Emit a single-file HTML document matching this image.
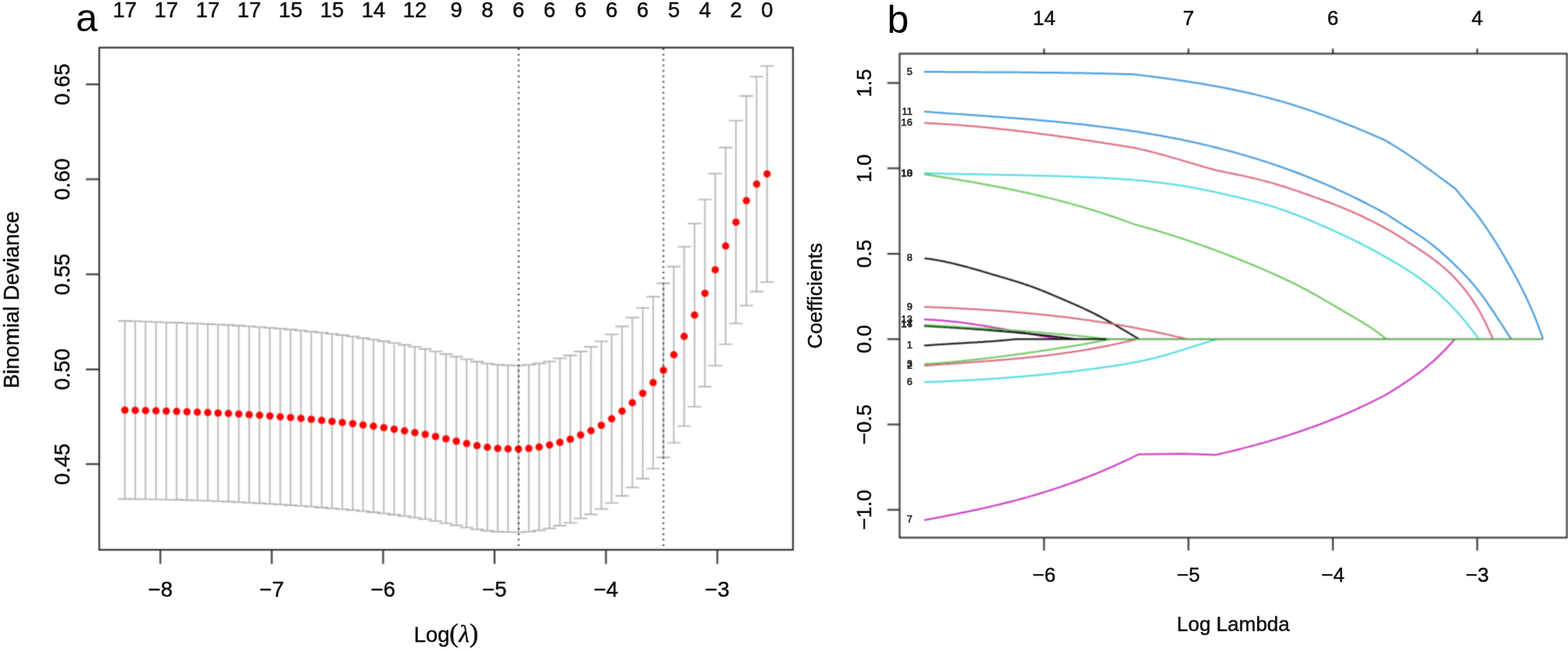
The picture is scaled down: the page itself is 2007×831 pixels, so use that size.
<!DOCTYPE html>
<html><head><meta charset="utf-8"><title>LASSO</title>
<style>
html,body{margin:0;padding:0;background:#fff;}
body{width:2007px;height:831px;overflow:hidden;}
svg{display:block;}
text{font-family:"Liberation Sans",Arial,sans-serif;fill:#111;stroke:#111;stroke-width:0.5px;}
.ta{font-size:27.4px;}
.tb{font-size:26px;}
.tl{font-size:12.8px;fill:#222;stroke:#222;stroke-width:0.55px;}
.big{font-size:50px;fill:#000;stroke:none;}
.par{font-family:"Liberation Serif","DejaVu Serif",serif;font-size:34px;}
.lam{font-family:"Liberation Serif","DejaVu Serif",serif;font-style:italic;font-size:31px;}
</style></head>
<body>
<svg width="2007" height="831" viewBox="0 0 2007 831">
<rect width="2007" height="831" fill="#fff"/>
<defs><filter id="soft" x="0" y="0" width="2007" height="831" filterUnits="userSpaceOnUse" color-interpolation-filters="sRGB"><feConvolveMatrix order="3" kernelMatrix="1 2 1 2 4 2 1 2 1" divisor="16" edgeMode="none"/></filter></defs>
<g filter="url(#soft)">
<path d="M159.8 410.9V638.9M151.1 410.9H168.5M151.1 638.9H168.5M173.1 411.3V639.1M164.4 411.3H181.8M164.4 639.1H181.8M186.3 411.8V639.3M177.6 411.8H195M177.6 639.3H195M199.6 412.2V639.5M190.9 412.2H208.3M190.9 639.5H208.3M212.8 412.7V639.7M204.1 412.7H221.5M204.1 639.7H221.5M226.1 413.1V639.9M217.4 413.1H234.8M217.4 639.9H234.8M239.3 413.7V640.4M230.6 413.7H248M230.6 640.4H248M252.6 414.3V640.8M243.9 414.3H261.3M243.9 640.8H261.3M265.9 414.9V641.3M257.2 414.9H274.6M257.2 641.3H274.6M279.1 415.5V641.8M270.4 415.5H287.8M270.4 641.8H287.8M292.4 416.1V642.4M283.7 416.1H301.1M283.7 642.4H301.1M305.6 416.9V643M296.9 416.9H314.3M296.9 643H314.3M318.9 417.8V643.7M310.2 417.8H327.6M310.2 643.7H327.6M332.2 418.7V644.4M323.5 418.7H340.9M323.5 644.4H340.9M345.4 419.7V645.2M336.7 419.7H354.1M336.7 645.2H354.1M358.7 420.7V646M350 420.7H367.4M350 646H367.4M371.9 421.9V646.9M363.2 421.9H380.6M363.2 646.9H380.6M385.2 423.2V647.8M376.5 423.2H393.9M376.5 647.8H393.9M398.4 424.6V648.8M389.7 424.6H407.1M389.7 648.8H407.1M411.7 426V649.9M403 426H420.4M403 649.9H420.4M425 427.5V651M416.3 427.5H433.7M416.3 651H433.7M438.2 429.1V652M429.5 429.1H446.9M429.5 652H446.9M451.5 430.8V653.2M442.8 430.8H460.2M442.8 653.2H460.2M464.7 432.9V654.5M456 432.9H473.4M456 654.5H473.4M478 434.8V655.9M469.3 434.8H486.7M469.3 655.9H486.7M491.3 436.9V657.5M482.6 436.9H500M482.6 657.5H500M504.5 439.2V659.1M495.8 439.2H513.2M495.8 659.1H513.2M517.8 441.6V660.8M509.1 441.6H526.5M509.1 660.8H526.5M531 444V662.8M522.3 444H539.7M522.3 662.8H539.7M544.3 446.9V664.8M535.6 446.9H553M535.6 664.8H553M557.5 450V667.3M548.8 450H566.2M548.8 667.3H566.2M570.8 453.4V670M562.1 453.4H579.5M562.1 670H579.5M584.1 456.6V672.6M575.4 456.6H592.8M575.4 672.6H592.8M597.3 460V675.5M588.6 460H606M588.6 675.5H606M610.6 463.1V677.8M601.9 463.1H619.3M601.9 677.8H619.3M623.8 465.5V679.6M615.1 465.5H632.5M615.1 679.6H632.5M637.1 466.9V680.9M628.4 466.9H645.8M628.4 680.9H645.8M650.3 467.6V681.3M641.6 467.6H659M641.6 681.3H659M663.6 468V681.5M654.9 468H672.3M654.9 681.5H672.3M676.9 467.2V680.8M668.2 467.2H685.6M668.2 680.8H685.6M690.1 465.4V679.3M681.4 465.4H698.8M681.4 679.3H698.8M703.4 462.7V676.6M694.7 462.7H712.1M694.7 676.6H712.1M716.6 458.8V673.1M707.9 458.8H725.3M707.9 673.1H725.3M729.9 455.1V669.5M721.2 455.1H738.6M721.2 669.5H738.6M743.2 450.1V663.8M734.5 450.1H751.9M734.5 663.8H751.9M756.4 444.1V658.6M747.7 444.1H765.1M747.7 658.6H765.1M769.7 437V651.8M761 437H778.4M761 651.8H778.4M782.9 428.3V644M774.2 428.3H791.6M774.2 644H791.6M796.2 417.9V634.9M787.5 417.9H804.9M787.5 634.9H804.9M809.4 406.6V624.3M800.7 406.6H818.1M800.7 624.3H818.1M822.7 394.2V612.9M814 394.2H831.4M814 612.9H831.4M836 379.9V600M827.3 379.9H844.7M827.3 600H844.7M849.2 362.6V585.6M840.5 362.6H857.9M840.5 585.6H857.9M862.5 341.4V567M853.8 341.4H871.2M853.8 567H871.2M875.7 316V545.5M867 316H884.4M867 545.5H884.4M889 286.3V520.7M880.3 286.3H897.7M880.3 520.7H897.7M902.3 255.5V495.1M893.6 255.5H911M893.6 495.1H911M915.5 222.4V468.3M906.8 222.4H924.2M906.8 468.3H924.2M928.8 188.9V440.8M920.1 188.9H937.5M920.1 440.8H937.5M942 154.5V414.2M933.3 154.5H950.7M933.3 414.2H950.7M955.3 122.9V391.3M946.6 122.9H964M946.6 391.3H964M968.5 98.2V373.4M959.8 98.2H977.2M959.8 373.4H977.2M981.8 84.5V361.2M973.1 84.5H990.5M973.1 361.2H990.5" stroke="#aaaaaa" stroke-width="1.6" fill="none"/>
<circle cx="159.8" cy="525.1" r="4.7" fill="#f00"/>
<circle cx="173.1" cy="525.4" r="4.7" fill="#f00"/>
<circle cx="186.3" cy="525.7" r="4.7" fill="#f00"/>
<circle cx="199.6" cy="526" r="4.7" fill="#f00"/>
<circle cx="212.8" cy="526.4" r="4.7" fill="#f00"/>
<circle cx="226.1" cy="526.7" r="4.7" fill="#f00"/>
<circle cx="239.3" cy="527.2" r="4.7" fill="#f00"/>
<circle cx="252.6" cy="527.7" r="4.7" fill="#f00"/>
<circle cx="265.9" cy="528.3" r="4.7" fill="#f00"/>
<circle cx="279.1" cy="528.9" r="4.7" fill="#f00"/>
<circle cx="292.4" cy="529.5" r="4.7" fill="#f00"/>
<circle cx="305.6" cy="530.1" r="4.7" fill="#f00"/>
<circle cx="318.9" cy="530.9" r="4.7" fill="#f00"/>
<circle cx="332.2" cy="531.7" r="4.7" fill="#f00"/>
<circle cx="345.4" cy="532.6" r="4.7" fill="#f00"/>
<circle cx="358.7" cy="533.7" r="4.7" fill="#f00"/>
<circle cx="371.9" cy="534.6" r="4.7" fill="#f00"/>
<circle cx="385.2" cy="535.7" r="4.7" fill="#f00"/>
<circle cx="398.4" cy="536.9" r="4.7" fill="#f00"/>
<circle cx="411.7" cy="538.2" r="4.7" fill="#f00"/>
<circle cx="425" cy="539.6" r="4.7" fill="#f00"/>
<circle cx="438.2" cy="541" r="4.7" fill="#f00"/>
<circle cx="451.5" cy="542.5" r="4.7" fill="#f00"/>
<circle cx="464.7" cy="544.1" r="4.7" fill="#f00"/>
<circle cx="478" cy="545.8" r="4.7" fill="#f00"/>
<circle cx="491.3" cy="547.6" r="4.7" fill="#f00"/>
<circle cx="504.5" cy="549.6" r="4.7" fill="#f00"/>
<circle cx="517.8" cy="551.7" r="4.7" fill="#f00"/>
<circle cx="531" cy="553.9" r="4.7" fill="#f00"/>
<circle cx="544.3" cy="556.1" r="4.7" fill="#f00"/>
<circle cx="557.5" cy="558.9" r="4.7" fill="#f00"/>
<circle cx="570.8" cy="561.9" r="4.7" fill="#f00"/>
<circle cx="584.1" cy="564.9" r="4.7" fill="#f00"/>
<circle cx="597.3" cy="567.9" r="4.7" fill="#f00"/>
<circle cx="610.6" cy="570.6" r="4.7" fill="#f00"/>
<circle cx="623.8" cy="572.7" r="4.7" fill="#f00"/>
<circle cx="637.1" cy="574.1" r="4.7" fill="#f00"/>
<circle cx="650.3" cy="574.7" r="4.7" fill="#f00"/>
<circle cx="663.6" cy="574.9" r="4.7" fill="#f00"/>
<circle cx="676.9" cy="574.1" r="4.7" fill="#f00"/>
<circle cx="690.1" cy="572.4" r="4.7" fill="#f00"/>
<circle cx="703.4" cy="569.7" r="4.7" fill="#f00"/>
<circle cx="716.6" cy="566.4" r="4.7" fill="#f00"/>
<circle cx="729.9" cy="562.4" r="4.7" fill="#f00"/>
<circle cx="743.2" cy="557" r="4.7" fill="#f00"/>
<circle cx="756.4" cy="551.5" r="4.7" fill="#f00"/>
<circle cx="769.7" cy="544.6" r="4.7" fill="#f00"/>
<circle cx="782.9" cy="536.3" r="4.7" fill="#f00"/>
<circle cx="796.2" cy="526.5" r="4.7" fill="#f00"/>
<circle cx="809.4" cy="515.7" r="4.7" fill="#f00"/>
<circle cx="822.7" cy="503.6" r="4.7" fill="#f00"/>
<circle cx="836" cy="489.9" r="4.7" fill="#f00"/>
<circle cx="849.2" cy="474.1" r="4.7" fill="#f00"/>
<circle cx="862.5" cy="454.2" r="4.7" fill="#f00"/>
<circle cx="875.7" cy="430.7" r="4.7" fill="#f00"/>
<circle cx="889" cy="403.4" r="4.7" fill="#f00"/>
<circle cx="902.3" cy="375.6" r="4.7" fill="#f00"/>
<circle cx="915.5" cy="345.4" r="4.7" fill="#f00"/>
<circle cx="928.8" cy="315" r="4.7" fill="#f00"/>
<circle cx="942" cy="284.5" r="4.7" fill="#f00"/>
<circle cx="955.3" cy="257" r="4.7" fill="#f00"/>
<circle cx="968.5" cy="235.7" r="4.7" fill="#f00"/>
<circle cx="981.8" cy="222.8" r="4.7" fill="#f00"/>
<line x1="663.9" y1="61" x2="663.9" y2="704" stroke="#222" stroke-width="2" stroke-dasharray="2 4.979" stroke-dashoffset="-0.9"/>
<line x1="849.2" y1="61" x2="849.2" y2="704" stroke="#222" stroke-width="2" stroke-dasharray="2 4.979" stroke-dashoffset="-0.9"/>
<rect x="127" y="61" width="888" height="643" fill="none" stroke="#222" stroke-width="2"/>
<path d="M205.3 704V722M347.8 704V722M490.4 704V722M633 704V722M775.6 704V722M918.2 704V722M110 108H127M110 229.5H127M110 351.3H127M110 472.9H127M110 594.3H127" stroke="#222" stroke-width="2" fill="none"/>
<path d="M1183 442.5 1185 442.3 1187 442.2 1189 442 1191 441.9 1193 441.7 1195 441.6 1197 441.5 1199 441.3 1201 441.2 1203 441.1 1205 440.9 1207 440.8 1209 440.7 1211 440.6 1213 440.4 1215 440.3 1217 440.2 1219 440.1 1221 440 1223 439.9 1225 439.7 1227 439.6 1229 439.5 1231 439.4 1233 439.3 1235 439.2 1237 439.1 1239 439 1241 438.8 1243 438.7 1245 438.6 1247 438.5 1249 438.4 1251 438.2 1253 438.1 1255 438 1257 437.9 1259 437.7 1261 437.6 1263 437.5 1265 437.3 1267 437.2 1269 437.1 1271 436.9 1273 436.8 1275 436.6 1277 436.4 1279 436.3 1281 436.1 1283 436 1285 435.8 1287 435.6 1289 435.4 1291 435.2 1293 435 1295 434.8 1297 434.6 1299 434.4 1301 434.2" stroke="#000000" stroke-width="2" fill="none" stroke-linejoin="round"/>
<path d="M1183 468.2 1185 468.1 1187 467.9 1189 467.8 1191 467.6 1193 467.5 1195 467.3 1197 467.2 1199 467 1201 466.9 1203 466.8 1205 466.6 1207 466.5 1209 466.3 1211 466.2 1213 466 1215 465.9 1217 465.8 1219 465.6 1221 465.5 1223 465.3 1225 465.2 1227 465.1 1229 464.9 1231 464.8 1233 464.6 1235 464.5 1237 464.3 1239 464.2 1241 464.1 1243 463.9 1245 463.8 1247 463.6 1249 463.5 1251 463.3 1253 463.2 1255 463 1257 462.9 1259 462.7 1261 462.6 1263 462.4 1265 462.3 1267 462.1 1269 461.9 1271 461.8 1273 461.6 1275 461.5 1277 461.3 1279 461.1 1281 461 1283 460.8 1285 460.6 1287 460.4 1289 460.3 1291 460.1 1293 459.9 1295 459.7 1297 459.5 1299 459.4 1301 459.2 1303 459 1305 458.8 1307 458.6 1309 458.4 1311 458.2 1313 458 1315 457.8 1317 457.6 1319 457.4 1321 457.2 1323 457 1325 456.8 1327 456.5 1329 456.3 1331 456.1 1333 455.9 1335 455.6 1337 455.4 1339 455.2 1341 454.9 1343 454.7 1345 454.4 1347 454.2 1349 453.9 1351 453.7 1353 453.4 1355 453.1 1357 452.9 1359 452.6 1361 452.3 1363 452 1365 451.8 1367 451.5 1369 451.2 1371 450.9 1373 450.6 1375 450.3 1377 450 1379 449.7 1381 449.3 1383 449 1385 448.7 1387 448.4 1389 448 1391 447.7 1393 447.4 1395 447 1397 446.7 1399 446.3 1401 445.9 1403 445.6 1405 445.2 1407 444.8 1409 444.4 1411 444.1 1413 443.7 1415 443.3 1417 442.9 1419 442.5 1421 442.1 1423 441.6 1425 441.2 1427 440.8 1429 440.4 1431 439.9 1433 439.5 1435 439 1437 438.6 1439 438.1 1441 437.6 1443 437.2 1445 436.7 1447 436.2 1449 435.7 1451 435.2 1453 434.7 1455 434.2" stroke="#D75772" stroke-width="2" fill="none" stroke-linejoin="round"/>
<path d="M1183 466.1 1185 466 1187 465.9 1189 465.7 1191 465.6 1193 465.5 1195 465.3 1197 465.2 1199 465 1201 464.9 1203 464.7 1205 464.6 1207 464.4 1209 464.2 1211 464.1 1213 463.9 1215 463.7 1217 463.6 1219 463.4 1221 463.2 1223 463 1225 462.8 1227 462.6 1229 462.4 1231 462.3 1233 462.1 1235 461.8 1237 461.6 1239 461.4 1241 461.2 1243 461 1245 460.8 1247 460.6 1249 460.4 1251 460.1 1253 459.9 1255 459.7 1257 459.5 1259 459.2 1261 459 1263 458.8 1265 458.5 1267 458.3 1269 458 1271 457.8 1273 457.5 1275 457.3 1277 457 1279 456.8 1281 456.5 1283 456.3 1285 456 1287 455.7 1289 455.5 1291 455.2 1293 455 1295 454.7 1297 454.4 1299 454.1 1301 453.9 1303 453.6 1305 453.3 1307 453 1309 452.8 1311 452.5 1313 452.2 1315 451.9 1317 451.6 1319 451.3 1321 451 1323 450.8 1325 450.5 1327 450.2 1329 449.9 1331 449.6 1333 449.3 1335 449 1337 448.7 1339 448.4 1341 448.1 1343 447.8 1345 447.5 1347 447.2 1349 446.9 1351 446.6 1353 446.3 1355 446 1357 445.6 1359 445.3 1361 445 1363 444.7 1365 444.4 1367 444.1 1369 443.7 1371 443.4 1373 443.1 1375 442.7 1377 442.4 1379 442.1 1381 441.7 1383 441.4 1385 441 1387 440.7 1389 440.3 1391 440 1393 439.6 1395 439.3 1397 438.9 1399 438.5 1401 438.2 1403 437.8 1405 437.4 1407 437 1409 436.6 1411 436.2 1413 435.8 1415 435.4 1417 435 1419 434.6 1421 434.2" stroke="#5EC350" stroke-width="2" fill="none" stroke-linejoin="round"/>
<path d="M1183 92 1185 92 1187 92 1189 92 1191 92 1193 92.1 1195 92.1 1197 92.1 1199 92.1 1201 92.1 1203 92.1 1205 92.1 1207 92.1 1209 92.1 1211 92.2 1213 92.2 1215 92.2 1217 92.2 1219 92.2 1221 92.2 1223 92.2 1225 92.2 1227 92.2 1229 92.2 1231 92.2 1233 92.3 1235 92.3 1237 92.3 1239 92.3 1241 92.3 1243 92.3 1245 92.3 1247 92.3 1249 92.3 1251 92.3 1253 92.3 1255 92.4 1257 92.4 1259 92.4 1261 92.4 1263 92.4 1265 92.4 1267 92.4 1269 92.4 1271 92.4 1273 92.4 1275 92.5 1277 92.5 1279 92.5 1281 92.5 1283 92.5 1285 92.5 1287 92.5 1289 92.5 1291 92.6 1293 92.6 1295 92.6 1297 92.6 1299 92.6 1301 92.6 1303 92.6 1305 92.6 1307 92.7 1309 92.7 1311 92.7 1313 92.7 1315 92.7 1317 92.7 1319 92.8 1321 92.8 1323 92.8 1325 92.8 1327 92.8 1329 92.9 1331 92.9 1333 92.9 1335 92.9 1337 92.9 1339 93 1341 93 1343 93 1345 93 1347 93 1349 93.1 1351 93.1 1353 93.1 1355 93.1 1357 93.2 1359 93.2 1361 93.2 1363 93.3 1365 93.3 1367 93.3 1369 93.3 1371 93.4 1373 93.4 1375 93.4 1377 93.5 1379 93.5 1381 93.5 1383 93.6 1385 93.6 1387 93.6 1389 93.7 1391 93.7 1393 93.8 1395 93.8 1397 93.8 1399 93.9 1401 93.9 1403 94 1405 94 1407 94.1 1409 94.1 1411 94.1 1413 94.2 1415 94.2 1417 94.3 1419 94.3 1421 94.4 1423 94.4 1425 94.5 1427 94.5 1429 94.6 1431 94.7 1433 94.7 1435 94.8 1437 94.8 1439 94.9 1441 94.9 1443 95 1445 95.1 1447 95.1 1449 95.2 1451 95.3 1452.2 95.3 1454.2 95.5 1456.2 95.8 1458.2 96 1460.2 96.3 1462.2 96.5 1464.2 96.8 1466.2 97 1468.2 97.3 1470.2 97.5 1472.2 97.8 1474.2 98 1476.2 98.3 1478.2 98.6 1480.2 98.8 1482.2 99.1 1484.2 99.3 1486.2 99.6 1488.2 99.9 1490.2 100.1 1492.2 100.4 1494.2 100.7 1496.2 101 1498.2 101.2 1500.2 101.5 1502.2 101.8 1504.2 102.1 1506.2 102.4 1508.2 102.6 1510.2 102.9 1512.2 103.2 1514.2 103.5 1516.2 103.8 1518.2 104.1 1520.2 104.4 1522.2 104.7 1524.2 105 1526.2 105.4 1528.2 105.7 1530.2 106 1532.2 106.3 1534.2 106.6 1536.2 107 1538.2 107.3 1540.2 107.6 1542.2 108 1544.2 108.3 1546.2 108.7 1548.2 109 1550.2 109.4 1552.2 109.7 1554.2 110.1 1556.2 110.4 1558.2 110.8 1560.2 111.2 1562.2 111.6 1564.2 111.9 1566.2 112.3 1568.2 112.7 1570.2 113.1 1572.2 113.5 1574.2 113.9 1576.2 114.3 1578.2 114.7 1580.2 115.1 1582.2 115.5 1584.2 116 1586.2 116.4 1588.2 116.8 1590.2 117.2 1592.2 117.7 1594.2 118.1 1596.2 118.6 1598.2 119 1600.2 119.5 1602.2 120 1604.2 120.4 1606.2 120.9 1608.2 121.4 1610.2 121.9 1612.2 122.4 1614.2 122.9 1616.2 123.4 1618.2 123.9 1620.2 124.4 1622.2 124.9 1624.2 125.4 1626.2 126 1628.2 126.5 1630.2 127.1 1632.2 127.6 1634.2 128.2 1636.2 128.7 1638.2 129.3 1640.2 129.9 1642.2 130.4 1644.2 131 1646.2 131.6 1648.2 132.2 1650.2 132.8 1652.2 133.4 1654.2 134 1656.2 134.7 1658.2 135.3 1660.2 135.9 1662.2 136.6 1664.2 137.2 1666.2 137.9 1668.2 138.5 1670.2 139.2 1672.2 139.9 1674.2 140.6 1676.2 141.2 1678.2 141.9 1680.2 142.6 1682.2 143.3 1684.2 144 1686.2 144.7 1688.2 145.5 1690.2 146.2 1692.2 146.9 1694.2 147.6 1696.2 148.4 1698.2 149.1 1700.2 149.8 1702.2 150.6 1704.2 151.4 1706.2 152.1 1708.2 152.9 1710.2 153.6 1712.2 154.4 1714.2 155.2 1716.2 156 1718.2 156.7 1720.2 157.5 1722.2 158.3 1724.2 159.1 1726.2 159.9 1728.2 160.7 1730.2 161.5 1732.2 162.3 1734.2 163.1 1736.2 163.9 1738.2 164.8 1740.2 165.6 1742.2 166.4 1744.2 167.2 1746.2 168.1 1748.2 168.9 1750.2 169.7 1752.2 170.6 1754.2 171.4 1756.2 172.3 1758.2 173.2 1760.2 174 1762.2 174.9 1764.2 175.8 1766.2 176.7 1768.2 177.6 1770.2 178.5 1772.2 179.4 1774 180.3 1776 181.5 1778 182.6 1780 183.8 1782 185 1784 186.3 1786 187.5 1788 188.7 1790 190 1792 191.3 1794 192.6 1796 193.9 1798 195.2 1800 196.5 1802 197.8 1804 199.2 1806 200.5 1808 201.9 1810 203.3 1812 204.7 1814 206 1816 207.4 1818 208.9 1820 210.3 1822 211.7 1824 213.1 1826 214.6 1828 216 1830 217.4 1832 218.9 1834 220.3 1836 221.8 1838 223.3 1840 224.7 1842 226.2 1844 227.7 1846 229.2 1848 230.7 1850 232.1 1852 233.6 1854 235.1 1856 236.6 1858 238.1 1860 239.6 1862 241.1 1863 241.8 1865 244.3 1867 246.7 1869 249.2 1871 251.5 1873 253.9 1875 256.3 1877 258.6 1879 261 1881 263.4 1883 265.8 1885 268.2 1887 270.6 1889 273.2 1891 275.7 1893 278.4 1895 281.1 1897 283.8 1899 286.7 1901 289.6 1903 292.5 1905 295.5 1907 298.5 1909 301.6 1911 304.7 1913 307.8 1915 311 1917 314.2 1919 317.5 1921 320.8 1923 324.2 1925 327.6 1927 331 1929 334.5 1931 338 1933 341.5 1935 345.1 1937 348.7 1939 352.4 1941 356.1 1943 359.9 1945 363.7 1947 367.6 1949 371.6 1951 375.7 1953 379.8 1955 384.1 1957 388.4 1959 392.8 1961 397.4 1963 402.1 1965 407 1967 412 1969 417.2 1971 422.6 1973 428.3 1975 434.2" stroke="#2F8DD7" stroke-width="2" fill="none" stroke-linejoin="round"/>
<path d="M1183 489.3 1185 489.2 1187 489.2 1189 489.1 1191 489 1193 489 1195 488.9 1197 488.8 1199 488.8 1201 488.7 1203 488.6 1205 488.5 1207 488.4 1209 488.4 1211 488.3 1213 488.2 1215 488.1 1217 488 1219 487.9 1221 487.8 1223 487.7 1225 487.6 1227 487.5 1229 487.4 1231 487.3 1233 487.2 1235 487.1 1237 487 1239 486.9 1241 486.8 1243 486.7 1245 486.6 1247 486.5 1249 486.4 1251 486.2 1253 486.1 1255 486 1257 485.9 1259 485.7 1261 485.6 1263 485.5 1265 485.3 1267 485.2 1269 485.1 1271 484.9 1273 484.8 1275 484.7 1277 484.5 1279 484.4 1281 484.2 1283 484.1 1285 483.9 1287 483.8 1289 483.6 1291 483.5 1293 483.3 1295 483.2 1297 483 1299 482.8 1301 482.7 1303 482.5 1305 482.3 1307 482.2 1309 482 1311 481.8 1313 481.6 1315 481.5 1317 481.3 1319 481.1 1321 480.9 1323 480.7 1325 480.5 1327 480.4 1329 480.2 1331 480 1333 479.8 1335 479.6 1337 479.4 1339 479.2 1341 479 1343 478.8 1345 478.6 1347 478.3 1349 478.1 1351 477.9 1353 477.7 1355 477.5 1357 477.3 1359 477.1 1361 476.8 1363 476.6 1365 476.4 1367 476.1 1369 475.9 1371 475.7 1373 475.4 1375 475.2 1377 475 1379 474.7 1381 474.5 1383 474.2 1385 474 1387 473.7 1389 473.5 1391 473.2 1393 473 1395 472.7 1397 472.5 1399 472.2 1401 471.9 1403 471.7 1405 471.4 1407 471.1 1409 470.9 1411 470.6 1413 470.3 1415 470 1417 469.7 1419 469.4 1421 469.2 1423 468.9 1425 468.6 1427 468.3 1429 468 1431 467.7 1433 467.3 1435 467 1437 466.7 1439 466.4 1441 466 1443 465.7 1445 465.3 1447 465 1449 464.6 1451 464.2 1453 463.8 1455 463.5 1457 463.1 1459 462.6 1461 462.2 1463 461.8 1465 461.4 1467 460.9 1469 460.5 1471 460 1473 459.5 1475 459.1 1477 458.6 1479 458.1 1481 457.5 1483 457 1485 456.5 1487 456 1489 455.4 1491 454.8 1493 454.3 1495 453.7 1497 453.1 1499 452.5 1501 451.9 1503 451.3 1505 450.7 1507 450.1 1509 449.5 1511 448.9 1513 448.2 1515 447.6 1517 447 1519 446.3 1521 445.7 1523 445.1 1525 444.4 1527 443.8 1529 443.1 1531 442.5 1533 441.9 1535 441.2 1537 440.6 1539 440 1541 439.3 1543 438.7 1545 438.1 1547 437.5 1549 436.9 1551 436.3 1553 435.7 1555 435.1 1557 434.5 1558 434.2" stroke="#3CD7DD" stroke-width="2" fill="none" stroke-linejoin="round"/>
<path d="M1183 665.9 1185 665.5 1187 665.2 1189 664.8 1191 664.4 1193 664 1195 663.7 1197 663.3 1199 662.9 1201 662.5 1203 662.2 1205 661.8 1207 661.4 1209 661 1211 660.6 1213 660.2 1215 659.8 1217 659.4 1219 659 1221 658.7 1223 658.3 1225 657.9 1227 657.4 1229 657 1231 656.6 1233 656.2 1235 655.8 1237 655.4 1239 655 1241 654.6 1243 654.1 1245 653.7 1247 653.3 1249 652.8 1251 652.4 1253 652 1255 651.5 1257 651.1 1259 650.6 1261 650.2 1263 649.7 1265 649.3 1267 648.8 1269 648.3 1271 647.9 1273 647.4 1275 646.9 1277 646.5 1279 646 1281 645.5 1283 645 1285 644.5 1287 644 1289 643.5 1291 643 1293 642.5 1295 642 1297 641.5 1299 640.9 1301 640.4 1303 639.9 1305 639.3 1307 638.8 1309 638.2 1311 637.7 1313 637.1 1315 636.6 1317 636 1319 635.4 1321 634.9 1323 634.3 1325 633.7 1327 633.1 1329 632.5 1331 631.9 1333 631.3 1335 630.7 1337 630.1 1339 629.4 1341 628.8 1343 628.2 1345 627.5 1347 626.9 1349 626.2 1351 625.6 1353 624.9 1355 624.3 1357 623.6 1359 622.9 1361 622.2 1363 621.5 1365 620.8 1367 620.1 1369 619.4 1371 618.7 1373 618 1375 617.2 1377 616.5 1379 615.8 1381 615 1383 614.3 1385 613.5 1387 612.7 1389 612 1391 611.2 1393 610.4 1395 609.6 1397 608.8 1399 608 1401 607.2 1403 606.4 1405 605.6 1407 604.7 1409 603.9 1411 603.1 1413 602.2 1415 601.4 1417 600.5 1419 599.6 1421 598.8 1423 597.9 1425 597 1427 596.1 1429 595.2 1431 594.3 1433 593.4 1435 592.5 1437 591.5 1439 590.6 1441 589.7 1443 588.7 1445 587.8 1447 586.8 1449 585.9 1451 584.9 1453 583.9 1455 582.9 1457 581.9 1457.5 581.7 1515 581.1 1556.3 582.4 1558.3 581.9 1560.3 581.5 1562.3 581 1564.3 580.5 1566.3 580.1 1568.3 579.6 1570.3 579.1 1572.3 578.6 1574.3 578.1 1576.3 577.7 1578.3 577.2 1580.3 576.7 1582.3 576.2 1584.3 575.7 1586.3 575.2 1588.3 574.7 1590.3 574.1 1592.3 573.6 1594.3 573.1 1596.3 572.6 1598.3 572.1 1600.3 571.5 1602.3 571 1604.3 570.5 1606.3 569.9 1608.3 569.4 1610.3 568.8 1612.3 568.3 1614.3 567.7 1616.3 567.2 1618.3 566.6 1620.3 566 1622.3 565.4 1624.3 564.9 1626.3 564.3 1628.3 563.7 1630.3 563.1 1632.3 562.5 1634.3 561.9 1636.3 561.3 1638.3 560.7 1640.3 560.1 1642.3 559.5 1644.3 558.8 1646.3 558.2 1648.3 557.6 1650.3 556.9 1652.3 556.3 1654.3 555.6 1656.3 555 1658.3 554.3 1660.3 553.6 1662.3 553 1664.3 552.3 1666.3 551.6 1668.3 550.9 1670.3 550.2 1672.3 549.5 1674.3 548.8 1676.3 548.1 1678.3 547.4 1680.3 546.7 1682.3 545.9 1684.3 545.2 1686.3 544.5 1688.3 543.7 1690.3 543 1692.3 542.2 1694.3 541.4 1696.3 540.7 1698.3 539.9 1700.3 539.1 1702.3 538.3 1704.3 537.5 1706.3 536.7 1708.3 535.9 1710.3 535.1 1712.3 534.3 1714.3 533.5 1716.3 532.6 1718.3 531.8 1720.3 530.9 1722.3 530.1 1724.3 529.2 1726.3 528.3 1728.3 527.5 1730.3 526.6 1732.3 525.7 1734.3 524.8 1736.3 523.9 1738.3 523 1740.3 522 1742.3 521.1 1744.3 520.2 1746.3 519.2 1748.3 518.3 1750.3 517.3 1752.3 516.4 1754.3 515.4 1756.3 514.4 1758.3 513.4 1760.3 512.4 1762.3 511.4 1764.3 510.4 1766.3 509.4 1768.3 508.3 1770.3 507.3 1772.3 506.3 1774.3 505.2 1776.2 504.2 1778.2 502.9 1780.2 501.7 1782.2 500.4 1784.2 499.2 1786.2 497.9 1788.2 496.6 1790.2 495.3 1792.2 494 1794.2 492.7 1796.2 491.4 1798.2 490.1 1800.2 488.8 1802.2 487.4 1804.2 486 1806.2 484.6 1808.2 483.2 1810.2 481.8 1812.2 480.3 1814.2 478.9 1816.2 477.4 1818.2 475.8 1820.2 474.3 1822.2 472.7 1824.2 471.1 1826.2 469.5 1828.2 467.8 1830.2 466.1 1832.2 464.4 1834.2 462.7 1836.2 460.9 1838.2 459 1840.2 457.2 1842.2 455.3 1844.2 453.3 1846.2 451.4 1848.2 449.3 1850.2 447.3 1852.2 445.2 1854.2 443 1856.2 440.8 1858.2 438.6 1860.2 436.3 1862 434.2" stroke="#C921BC" stroke-width="2" fill="none" stroke-linejoin="round"/>
<path d="M1183.4 330.7 1185.4 330.9 1187.4 331.2 1189.4 331.5 1191.4 331.8 1193.4 332.1 1195.4 332.4 1197.4 332.7 1199.4 333.1 1201.4 333.5 1203.4 333.8 1205.4 334.2 1207.4 334.6 1209.4 335 1211.4 335.5 1213.4 335.9 1215.4 336.3 1217.4 336.8 1219.4 337.3 1221.4 337.7 1223.4 338.2 1225.4 338.7 1227.4 339.2 1229.4 339.7 1231.4 340.2 1233.4 340.8 1235.4 341.3 1237.4 341.8 1239.4 342.4 1241.4 342.9 1243.4 343.5 1245.4 344 1247.4 344.6 1249.4 345.2 1251.4 345.8 1253.4 346.3 1255.4 346.9 1257.4 347.5 1259.4 348.1 1261.4 348.7 1263.4 349.3 1265.4 349.9 1267.4 350.5 1269.4 351.1 1271.4 351.7 1273.4 352.3 1275.4 352.8 1277.4 353.4 1279.4 354 1281.4 354.6 1283.4 355.2 1285.4 355.8 1287.4 356.4 1289.4 357 1291.4 357.6 1293.4 358.2 1295.4 358.8 1297.4 359.4 1299.4 360 1301.4 360.6 1303.4 361.3 1305.4 361.9 1307.4 362.5 1309.4 363.2 1311.4 363.9 1313.4 364.5 1315.4 365.2 1317.4 365.9 1319.4 366.6 1321.4 367.3 1323.4 368.1 1325.4 368.8 1327.4 369.6 1329.4 370.3 1331.4 371.1 1333.4 371.9 1335.4 372.7 1337.4 373.5 1339.4 374.4 1341.4 375.2 1343.4 376 1345.4 376.9 1347.4 377.7 1349.4 378.6 1351.4 379.4 1353.4 380.3 1355.4 381.1 1357.4 382 1359.4 382.8 1361.4 383.7 1363.4 384.5 1365.4 385.4 1367.4 386.3 1369.4 387.1 1371.4 388 1373.4 388.9 1375.4 389.7 1377.4 390.6 1379.4 391.5 1381.4 392.4 1383.4 393.3 1385.4 394.2 1387.4 395.1 1389.4 396.1 1391.4 397 1393.4 398 1395.4 398.9 1397.4 399.9 1399.4 400.9 1401.4 401.9 1403.4 403 1405.4 404 1407.4 405 1409.4 406.1 1411.4 407.2 1413.4 408.3 1415.4 409.4 1417.4 410.5 1419.4 411.6 1421.4 412.7 1423.4 413.9 1425.4 415 1427.4 416.2 1429.4 417.3 1431.4 418.5 1433.4 419.7 1435.4 420.8 1437.4 422 1439.4 423.2 1441.4 424.4 1443.4 425.5 1445.4 426.7 1447.4 427.9 1449.4 429.1 1451.4 430.3 1453.4 431.5 1455.4 432.7 1457.4 433.8 1458 434.2" stroke="#000000" stroke-width="2" fill="none" stroke-linejoin="round"/>
<path d="M1183 392.9 1185 393 1187 393 1189 393.1 1191 393.2 1193 393.3 1195 393.4 1197 393.4 1199 393.5 1201 393.6 1203 393.7 1205 393.8 1207 393.9 1209 394 1211 394.1 1213 394.1 1215 394.2 1217 394.3 1219 394.4 1221 394.5 1223 394.6 1225 394.7 1227 394.8 1229 394.9 1231 395 1233 395.1 1235 395.2 1237 395.4 1239 395.5 1241 395.6 1243 395.7 1245 395.8 1247 395.9 1249 396 1251 396.2 1253 396.3 1255 396.4 1257 396.5 1259 396.7 1261 396.8 1263 396.9 1265 397.1 1267 397.2 1269 397.3 1271 397.5 1273 397.6 1275 397.8 1277 397.9 1279 398 1281 398.2 1283 398.3 1285 398.5 1287 398.6 1289 398.8 1291 399 1293 399.1 1295 399.3 1297 399.4 1299 399.6 1301 399.8 1303 399.9 1305 400.1 1307 400.3 1309 400.5 1311 400.6 1313 400.8 1315 401 1317 401.2 1319 401.4 1321 401.6 1323 401.8 1325 402 1327 402.2 1329 402.3 1331 402.5 1333 402.8 1335 403 1337 403.2 1339 403.4 1341 403.6 1343 403.8 1345 404 1347 404.2 1349 404.5 1351 404.7 1353 404.9 1355 405.1 1357 405.4 1359 405.6 1361 405.8 1363 406.1 1365 406.3 1367 406.6 1369 406.8 1371 407.1 1373 407.3 1375 407.6 1377 407.8 1379 408.1 1381 408.4 1383 408.6 1385 408.9 1387 409.2 1389 409.4 1391 409.7 1393 410 1395 410.3 1397 410.6 1399 410.9 1401 411.2 1403 411.4 1405 411.7 1407 412 1409 412.3 1411 412.7 1413 413 1415 413.3 1417 413.6 1419 413.9 1421 414.2 1423 414.6 1425 414.9 1427 415.2 1429 415.6 1431 415.9 1433 416.2 1435 416.6 1437 416.9 1439 417.3 1441 417.6 1443 418 1445 418.3 1447 418.7 1449 419.1 1451 419.4 1453 419.8 1455 420.2 1457 420.6 1459 421 1461 421.4 1463 421.8 1465 422.1 1467 422.6 1469 423 1471 423.4 1473 423.8 1475 424.2 1477 424.6 1479 425 1481 425.5 1483 425.9 1485 426.3 1487 426.8 1489 427.2 1491 427.6 1493 428.1 1495 428.6 1497 429 1499 429.5 1501 429.9 1503 430.4 1505 430.9 1507 431.4 1509 431.8 1511 432.3 1513 432.8 1515 433.3 1517 433.8 1518.5 434.2" stroke="#D75772" stroke-width="2" fill="none" stroke-linejoin="round"/>
<path d="M1183 223.1 1185 223.4 1187 223.7 1189 224 1191 224.3 1193 224.7 1195 225 1197 225.3 1199 225.6 1201 225.9 1203 226.2 1205 226.6 1207 226.9 1209 227.2 1211 227.5 1213 227.8 1215 228.2 1217 228.5 1219 228.8 1221 229.2 1223 229.5 1225 229.8 1227 230.2 1229 230.5 1231 230.8 1233 231.2 1235 231.5 1237 231.9 1239 232.2 1241 232.5 1243 232.9 1245 233.2 1247 233.6 1249 234 1251 234.3 1253 234.7 1255 235 1257 235.4 1259 235.8 1261 236.1 1263 236.5 1265 236.9 1267 237.2 1269 237.6 1271 238 1273 238.4 1275 238.8 1277 239.2 1279 239.5 1281 239.9 1283 240.3 1285 240.7 1287 241.1 1289 241.5 1291 241.9 1293 242.4 1295 242.8 1297 243.2 1299 243.6 1301 244 1303 244.4 1305 244.9 1307 245.3 1309 245.7 1311 246.2 1313 246.6 1315 247 1317 247.5 1319 247.9 1321 248.4 1323 248.9 1325 249.3 1327 249.8 1329 250.2 1331 250.7 1333 251.2 1335 251.7 1337 252.1 1339 252.6 1341 253.1 1343 253.6 1345 254.1 1347 254.6 1349 255.1 1351 255.6 1353 256.1 1355 256.6 1357 257.2 1359 257.7 1361 258.2 1363 258.7 1365 259.3 1367 259.8 1369 260.4 1371 260.9 1373 261.5 1375 262 1377 262.6 1379 263.2 1381 263.7 1383 264.3 1385 264.9 1387 265.5 1389 266.1 1391 266.7 1393 267.3 1395 267.9 1397 268.5 1399 269.1 1401 269.7 1403 270.3 1405 271 1407 271.6 1409 272.2 1411 272.9 1413 273.5 1415 274.2 1417 274.8 1419 275.5 1421 276.2 1423 276.8 1425 277.5 1427 278.2 1429 278.9 1431 279.6 1433 280.3 1435 281 1437 281.7 1439 282.4 1441 283.2 1443 283.9 1445 284.6 1447 285.4 1449 286.1 1451 286.9 1452.1 287.3 1454.1 287.8 1456.1 288.4 1458.1 288.9 1460.1 289.5 1462.1 290 1464.1 290.6 1466.1 291.1 1468.1 291.7 1470.1 292.3 1472.1 292.8 1474.1 293.4 1476.1 294 1478.1 294.6 1480.1 295.2 1482.1 295.8 1484.1 296.4 1486.1 297 1488.1 297.6 1490.1 298.2 1492.1 298.8 1494.1 299.4 1496.1 300.1 1498.1 300.7 1500.1 301.3 1502.1 301.9 1504.1 302.6 1506.1 303.2 1508.1 303.9 1510.1 304.5 1512.1 305.2 1514.1 305.8 1516.1 306.5 1518.1 307.2 1520.1 307.8 1522.1 308.5 1524.1 309.2 1526.1 309.9 1528.1 310.6 1530.1 311.3 1532.1 312 1534.1 312.7 1536.1 313.4 1538.1 314.1 1540.1 314.8 1542.1 315.5 1544.1 316.2 1546.1 316.9 1548.1 317.7 1550.1 318.4 1552.1 319.1 1554.1 319.9 1556.1 320.6 1558.1 321.4 1560.1 322.1 1562.1 322.9 1564.1 323.6 1566.1 324.4 1568.1 325.1 1570.1 325.9 1572.1 326.7 1574.1 327.5 1576.1 328.2 1578.1 329 1580.1 329.8 1582.1 330.6 1584.1 331.4 1586.1 332.2 1588.1 333 1590.1 333.8 1592.1 334.6 1594.1 335.4 1596.1 336.2 1598.1 337.1 1600.1 337.9 1602.1 338.7 1604.1 339.5 1606.1 340.4 1608.1 341.2 1610.1 342.1 1612.1 342.9 1614.1 343.8 1616.1 344.6 1618.1 345.5 1620.1 346.3 1622.1 347.2 1624.1 348.1 1626.1 349 1628.1 349.8 1630.1 350.7 1632.1 351.6 1634.1 352.5 1636.1 353.4 1638.1 354.3 1640.1 355.3 1642.1 356.2 1644.1 357.1 1646.1 358.1 1648.1 359 1650.1 360 1652.1 360.9 1654.1 361.9 1656.1 362.9 1658.1 363.9 1660.1 364.9 1662.1 365.9 1664.1 366.9 1666.1 368 1668.1 369 1670.1 370 1672.1 371.1 1674.1 372.2 1676.1 373.3 1678.1 374.4 1680.1 375.5 1682.1 376.6 1684.1 377.7 1686.1 378.8 1688.1 380 1690.1 381.1 1692.1 382.3 1694.1 383.5 1696.1 384.6 1698.1 385.8 1700.1 387 1702.1 388.2 1704.1 389.3 1706.1 390.5 1708.1 391.7 1710.1 392.9 1712.1 394.1 1714.1 395.2 1716.1 396.4 1718.1 397.6 1720.1 398.8 1722.1 399.9 1724.1 401.1 1726.1 402.2 1728.1 403.4 1730.1 404.5 1732.1 405.7 1734.1 406.9 1736.1 408 1738.1 409.2 1740.1 410.4 1742.1 411.6 1744.1 412.9 1746.1 414.1 1748.1 415.3 1750.1 416.6 1752.1 417.9 1754.1 419.2 1756.1 420.5 1758.1 421.9 1760.1 423.3 1762.1 424.7 1764.1 426.1 1766.1 427.6 1768.1 429.1 1770.1 430.7 1772.1 432.3 1774.1 433.9 1774.5 434.2" stroke="#5EC350" stroke-width="2" fill="none" stroke-linejoin="round"/>
<path d="M1183 142.9 1185 143 1187 143.2 1189 143.3 1191 143.5 1193 143.6 1195 143.8 1197 143.9 1199 144.1 1201 144.2 1203 144.4 1205 144.5 1207 144.6 1209 144.8 1211 144.9 1213 145.1 1215 145.2 1217 145.4 1219 145.5 1221 145.6 1223 145.8 1225 145.9 1227 146.1 1229 146.2 1231 146.3 1233 146.5 1235 146.6 1237 146.8 1239 146.9 1241 147.1 1243 147.2 1245 147.3 1247 147.5 1249 147.6 1251 147.8 1253 147.9 1255 148.1 1257 148.2 1259 148.3 1261 148.5 1263 148.6 1265 148.8 1267 148.9 1269 149.1 1271 149.2 1273 149.4 1275 149.5 1277 149.7 1279 149.8 1281 150 1283 150.1 1285 150.3 1287 150.4 1289 150.6 1291 150.7 1293 150.9 1295 151 1297 151.2 1299 151.3 1301 151.5 1303 151.7 1305 151.8 1307 152 1309 152.1 1311 152.3 1313 152.5 1315 152.6 1317 152.8 1319 153 1321 153.1 1323 153.3 1325 153.5 1327 153.7 1329 153.8 1331 154 1333 154.2 1335 154.4 1337 154.5 1339 154.7 1341 154.9 1343 155.1 1345 155.3 1347 155.5 1349 155.6 1351 155.8 1353 156 1355 156.2 1357 156.4 1359 156.6 1361 156.8 1363 157 1365 157.2 1367 157.4 1369 157.6 1371 157.8 1373 158 1375 158.3 1377 158.5 1379 158.7 1381 158.9 1383 159.1 1385 159.3 1387 159.6 1389 159.8 1391 160 1393 160.3 1395 160.5 1397 160.7 1399 161 1401 161.2 1403 161.4 1405 161.7 1407 161.9 1409 162.2 1411 162.4 1413 162.7 1415 162.9 1417 163.2 1419 163.5 1421 163.7 1423 164 1425 164.3 1427 164.5 1429 164.8 1431 165.1 1433 165.4 1435 165.6 1437 165.9 1439 166.2 1441 166.5 1443 166.8 1445 167.1 1447 167.4 1449 167.7 1451 168 1453 168.3 1455 168.6 1457 168.9 1459 169.2 1461 169.6 1463 169.9 1465 170.2 1467 170.5 1469 170.9 1471 171.2 1473 171.5 1475 171.9 1477 172.2 1479 172.6 1481 172.9 1483 173.3 1485 173.6 1487 174 1489 174.4 1491 174.7 1493 175.1 1495 175.5 1497 175.9 1499 176.2 1501 176.6 1503 177 1505 177.4 1507 177.8 1509 178.2 1511 178.6 1513 179 1515 179.4 1517 179.9 1519 180.3 1521 180.7 1523 181.1 1525 181.6 1527 182 1529 182.4 1531 182.9 1533 183.3 1535 183.8 1537 184.2 1539 184.7 1541 185.2 1543 185.6 1545 186.1 1547 186.6 1549 187.1 1551 187.6 1553 188 1555 188.5 1557 189 1559 189.5 1561 190 1563 190.6 1565 191.1 1567 191.6 1569 192.1 1571 192.7 1573 193.2 1575 193.7 1577 194.3 1579 194.8 1581 195.4 1583 195.9 1585 196.5 1587 197.1 1589 197.6 1591 198.2 1593 198.8 1595 199.4 1597 200 1599 200.6 1601 201.2 1603 201.8 1605 202.4 1607 203 1609 203.6 1611 204.2 1613 204.9 1615 205.5 1617 206.1 1619 206.8 1621 207.4 1623 208.1 1625 208.7 1627 209.4 1629 210.1 1631 210.8 1633 211.4 1635 212.1 1637 212.8 1639 213.5 1641 214.2 1643 214.9 1645 215.6 1647 216.3 1649 217.1 1651 217.8 1653 218.5 1655 219.3 1657 220 1659 220.8 1661 221.5 1663 222.3 1665 223 1667 223.8 1669 224.6 1671 225.4 1673 226.2 1675 227 1677 227.8 1679 228.6 1681 229.4 1683 230.2 1685 231 1687 231.9 1689 232.7 1691 233.5 1693 234.4 1695 235.2 1697 236.1 1699 236.9 1701 237.8 1703 238.7 1705 239.6 1707 240.5 1709 241.4 1711 242.3 1713 243.2 1715 244.1 1717 245 1719 245.9 1721 246.8 1723 247.8 1725 248.7 1727 249.7 1729 250.6 1731 251.6 1733 252.6 1735 253.5 1737 254.5 1739 255.5 1741 256.5 1743 257.5 1745 258.5 1747 259.5 1749 260.5 1751 261.6 1753 262.6 1755 263.6 1757 264.7 1759 265.7 1761 266.8 1763 267.8 1765 268.9 1767 270 1769 271.1 1771 272.2 1773 273.3 1774 273.8 1776 275.2 1778 276.5 1780 277.8 1782 279.1 1784 280.4 1786 281.7 1788 283 1790 284.2 1792 285.5 1794 286.8 1796 288 1798 289.3 1800 290.6 1802 291.8 1804 293.1 1806 294.4 1808 295.7 1810 297 1812 298.3 1814 299.6 1816 301 1818 302.3 1820 303.7 1822 305.1 1824 306.5 1826 308 1828 309.5 1830 311 1832 312.5 1834 314.1 1836 315.6 1838 317.3 1840 318.9 1842 320.6 1844 322.4 1846 324.1 1848 325.9 1850 327.7 1852 329.5 1854 331.4 1856 333.3 1858 335.2 1860 337.1 1862 339 1864 341 1866 342.9 1868 344.9 1870 346.9 1872 349 1874 351.1 1876 353.2 1878 355.3 1880 357.5 1882 359.8 1884 362.1 1886 364.4 1888 366.8 1890 369.3 1892 371.8 1894 374.4 1896 377 1898 379.7 1900 382.4 1902 385.2 1904 388.1 1906 391 1908 393.9 1910 396.9 1912 399.9 1914 402.9 1916 406 1918 409.1 1920 412.2 1922 415.3 1924 418.3 1926 421.4 1928 424.5 1930 427.6 1932 430.6 1934 433.6 1934.4 434.2" stroke="#2F8DD7" stroke-width="2" fill="none" stroke-linejoin="round"/>
<path d="M1183 221.7 1185 221.8 1187 221.8 1189 221.9 1191 221.9 1193 222 1195 222 1197 222.1 1199 222.1 1201 222.2 1203 222.2 1205 222.2 1207 222.3 1209 222.3 1211 222.4 1213 222.4 1215 222.5 1217 222.5 1219 222.6 1221 222.6 1223 222.7 1225 222.7 1227 222.7 1229 222.8 1231 222.8 1233 222.9 1235 222.9 1237 222.9 1239 223 1241 223 1243 223.1 1245 223.1 1247 223.1 1249 223.2 1251 223.2 1253 223.3 1255 223.3 1257 223.3 1259 223.4 1261 223.4 1263 223.5 1265 223.5 1267 223.5 1269 223.6 1271 223.6 1273 223.7 1275 223.7 1277 223.7 1279 223.8 1281 223.8 1283 223.9 1285 223.9 1287 223.9 1289 224 1291 224 1293 224.1 1295 224.1 1297 224.2 1299 224.2 1301 224.2 1303 224.3 1305 224.3 1307 224.4 1309 224.4 1311 224.5 1313 224.5 1315 224.6 1317 224.6 1319 224.7 1321 224.7 1323 224.8 1325 224.8 1327 224.9 1329 224.9 1331 225 1333 225 1335 225.1 1337 225.1 1339 225.2 1341 225.2 1343 225.3 1345 225.3 1347 225.4 1349 225.5 1351 225.5 1353 225.6 1355 225.6 1357 225.7 1359 225.8 1361 225.8 1363 225.9 1365 226 1367 226 1369 226.1 1371 226.2 1373 226.2 1375 226.3 1377 226.4 1379 226.4 1381 226.5 1383 226.6 1385 226.7 1387 226.8 1389 226.8 1391 226.9 1393 227 1395 227.1 1397 227.2 1399 227.3 1401 227.3 1403 227.4 1405 227.5 1407 227.6 1409 227.7 1411 227.8 1413 227.9 1415 228 1417 228.1 1419 228.2 1421 228.4 1423 228.5 1425 228.6 1427 228.7 1429 228.8 1431 229 1433 229.1 1435 229.2 1437 229.4 1439 229.5 1441 229.7 1443 229.8 1445 230 1447 230.1 1449 230.3 1451 230.4 1453 230.6 1455 230.8 1457 230.9 1459 231.1 1461 231.3 1463 231.5 1465 231.7 1467 231.9 1469 232.1 1471 232.3 1473 232.5 1475 232.7 1477 232.9 1479 233.2 1481 233.4 1483 233.6 1485 233.9 1487 234.1 1489 234.4 1491 234.6 1493 234.9 1495 235.2 1497 235.4 1499 235.7 1501 236 1503 236.3 1505 236.6 1507 236.9 1509 237.2 1511 237.5 1513 237.8 1515 238.2 1517 238.5 1519 238.8 1521 239.2 1523 239.5 1525 239.9 1527 240.3 1529 240.6 1531 241 1533 241.4 1535 241.8 1537 242.2 1539 242.6 1541 243 1543 243.4 1545 243.8 1547 244.2 1549 244.6 1551 245.1 1553 245.5 1555 245.9 1557 246.4 1559 246.8 1561 247.3 1563 247.7 1565 248.2 1567 248.6 1569 249.1 1571 249.5 1573 250 1575 250.4 1577 250.9 1579 251.4 1581 251.8 1583 252.3 1585 252.8 1587 253.2 1589 253.7 1591 254.2 1593 254.7 1595 255.1 1597 255.6 1599 256.1 1601 256.6 1603 257.1 1605 257.6 1607 258.2 1609 258.7 1611 259.2 1613 259.8 1615 260.3 1617 260.9 1619 261.5 1621 262 1623 262.6 1625 263.2 1627 263.9 1629 264.5 1631 265.1 1633 265.8 1635 266.4 1637 267.1 1639 267.7 1641 268.4 1643 269.1 1645 269.8 1647 270.5 1649 271.3 1651 272 1653 272.7 1655 273.5 1657 274.2 1659 275 1661 275.8 1663 276.6 1665 277.3 1667 278.1 1669 278.9 1671 279.8 1673 280.6 1675 281.4 1677 282.2 1679 283.1 1681 283.9 1683 284.8 1685 285.6 1687 286.5 1689 287.4 1691 288.2 1693 289.1 1695 290 1697 290.9 1699 291.8 1701 292.7 1703 293.6 1705 294.5 1707 295.4 1709 296.3 1711 297.2 1713 298.1 1715 299.1 1717 300 1719 300.9 1721 301.9 1723 302.8 1725 303.8 1727 304.7 1729 305.7 1731 306.6 1733 307.6 1735 308.6 1737 309.5 1739 310.5 1741 311.5 1743 312.5 1745 313.6 1747 314.6 1749 315.6 1751 316.7 1753 317.7 1755 318.8 1757 319.9 1759 320.9 1761 322 1763 323.2 1765 324.3 1767 325.4 1769 326.6 1771 327.7 1773 328.9 1774 329.5 1776 330.6 1778 331.7 1780 332.9 1782 334 1784 335.1 1786 336.3 1788 337.5 1790 338.6 1792 339.8 1794 341 1796 342.3 1798 343.5 1800 344.8 1802 346 1804 347.3 1806 348.6 1808 350 1810 351.3 1812 352.7 1814 354.1 1816 355.5 1818 356.9 1820 358.4 1822 359.9 1824 361.4 1826 362.9 1828 364.5 1830 366.1 1832 367.7 1834 369.4 1836 371.1 1838 372.8 1840 374.6 1842 376.3 1844 378.2 1846 380 1848 381.9 1850 383.8 1852 385.8 1854 387.8 1856 389.8 1858 391.9 1860 394 1862 396.1 1864 398.3 1866 400.5 1868 402.8 1870 405.1 1872 407.4 1874 409.8 1876 412.2 1878 414.6 1880 417.1 1882 419.7 1884 422.2 1886 424.8 1888 427.5 1890 430.2 1892 433 1892.9 434.2" stroke="#3CD7DD" stroke-width="2" fill="none" stroke-linejoin="round"/>
<path d="M1183 409 1185 409.1 1187 409.2 1189 409.3 1191 409.4 1193 409.5 1195 409.6 1197 409.7 1199 409.9 1201 410 1203 410.2 1205 410.3 1207 410.5 1209 410.7 1211 410.9 1213 411.1 1215 411.3 1217 411.5 1219 411.7 1221 411.9 1223 412.1 1225 412.3 1227 412.6 1229 412.8 1231 413.1 1233 413.3 1235 413.6 1237 413.9 1239 414.1 1241 414.4 1243 414.7 1245 415 1247 415.3 1249 415.6 1251 415.9 1253 416.2 1255 416.5 1257 416.8 1259 417.1 1261 417.4 1263 417.7 1265 418.1 1267 418.4 1269 418.7 1271 419.1 1273 419.4 1275 419.7 1277 420.1 1279 420.4 1281 420.8 1283 421.1 1285 421.5 1287 421.8 1289 422.2 1291 422.6 1293 422.9 1295 423.3 1297 423.6 1299 424 1301 424.4 1303 424.7 1305 425.1 1307 425.5 1309 425.8 1311 426.2 1313 426.6 1315 426.9 1317 427.3 1319 427.7 1321 428 1323 428.4 1325 428.8 1327 429.1 1329 429.5 1331 429.9 1333 430.2 1335 430.6 1337 430.9 1339 431.3 1341 431.6 1343 432 1345 432.3 1347 432.6 1349 433 1351 433.3 1353 433.6 1355 434 1356.5 434.2" stroke="#C921BC" stroke-width="2" fill="none" stroke-linejoin="round"/>
<path d="M1183 417.4 1185 417.5 1187 417.6 1189 417.7 1191 417.8 1193 418 1195 418.1 1197 418.2 1199 418.3 1201 418.4 1203 418.5 1205 418.6 1207 418.8 1209 418.9 1211 419 1213 419.1 1215 419.3 1217 419.4 1219 419.5 1221 419.6 1223 419.8 1225 419.9 1227 420 1229 420.2 1231 420.3 1233 420.4 1235 420.6 1237 420.7 1239 420.8 1241 421 1243 421.1 1245 421.2 1247 421.4 1249 421.5 1251 421.7 1253 421.8 1255 422 1257 422.1 1259 422.3 1261 422.4 1263 422.6 1265 422.7 1267 422.9 1269 423.1 1271 423.2 1273 423.4 1275 423.5 1277 423.7 1279 423.9 1281 424 1283 424.2 1285 424.4 1287 424.5 1289 424.7 1291 424.9 1293 425.1 1295 425.3 1297 425.4 1299 425.6 1301 425.8 1303 426 1305 426.2 1307 426.4 1309 426.6 1311 426.7 1313 426.9 1315 427.1 1317 427.3 1319 427.5 1321 427.7 1323 427.9 1325 428.1 1327 428.4 1329 428.6 1331 428.8 1333 429 1335 429.2 1337 429.4 1339 429.6 1341 429.9 1343 430.1 1345 430.3 1347 430.5 1349 430.8 1351 431 1353 431.2 1355 431.5 1357 431.7 1359 431.9 1361 432.2 1363 432.4 1365 432.7 1367 432.9 1369 433.2 1371 433.4 1373 433.7 1375 433.9 1377 434.2" stroke="#000000" stroke-width="2" fill="none" stroke-linejoin="round"/>
<path d="M1183 157.4 1185 157.5 1187 157.6 1189 157.7 1191 157.8 1193 157.9 1195 158 1197 158.1 1199 158.2 1201 158.4 1203 158.5 1205 158.6 1207 158.7 1209 158.9 1211 159 1213 159.1 1215 159.3 1217 159.4 1219 159.5 1221 159.7 1223 159.8 1225 160 1227 160.1 1229 160.3 1231 160.5 1233 160.6 1235 160.8 1237 160.9 1239 161.1 1241 161.3 1243 161.5 1245 161.6 1247 161.8 1249 162 1251 162.2 1253 162.4 1255 162.5 1257 162.7 1259 162.9 1261 163.1 1263 163.3 1265 163.5 1267 163.7 1269 163.9 1271 164.1 1273 164.3 1275 164.5 1277 164.7 1279 165 1281 165.2 1283 165.4 1285 165.6 1287 165.8 1289 166.1 1291 166.3 1293 166.5 1295 166.7 1297 167 1299 167.2 1301 167.4 1303 167.7 1305 167.9 1307 168.1 1309 168.4 1311 168.6 1313 168.9 1315 169.1 1317 169.4 1319 169.6 1321 169.9 1323 170.1 1325 170.4 1327 170.6 1329 170.9 1331 171.2 1333 171.4 1335 171.7 1337 172 1339 172.2 1341 172.5 1343 172.8 1345 173 1347 173.3 1349 173.6 1351 173.9 1353 174.1 1355 174.4 1357 174.7 1359 175 1361 175.3 1363 175.5 1365 175.8 1367 176.1 1369 176.4 1371 176.7 1373 177 1375 177.3 1377 177.6 1379 177.9 1381 178.2 1383 178.5 1385 178.8 1387 179.1 1389 179.4 1391 179.7 1393 180 1395 180.3 1397 180.6 1399 180.9 1401 181.2 1403 181.5 1405 181.8 1407 182.1 1409 182.4 1411 182.7 1413 183 1415 183.4 1417 183.7 1419 184 1421 184.3 1423 184.6 1425 184.9 1427 185.2 1429 185.6 1431 185.9 1433 186.2 1435 186.5 1437 186.8 1439 187.2 1441 187.5 1443 187.8 1445 188.1 1447 188.5 1449 188.8 1451 189.1 1452.2 189.3 1454.2 189.7 1456.2 190.2 1458.2 190.6 1460.2 191.1 1462.2 191.6 1464.2 192.1 1466.2 192.5 1468.2 193 1470.2 193.5 1472.2 194 1474.2 194.5 1476.2 195.1 1478.2 195.6 1480.2 196.1 1482.2 196.6 1484.2 197.2 1486.2 197.7 1488.2 198.3 1490.2 198.8 1492.2 199.4 1494.2 199.9 1496.2 200.5 1498.2 201.1 1500.2 201.6 1502.2 202.2 1504.2 202.8 1506.2 203.4 1508.2 203.9 1510.2 204.5 1512.2 205.1 1514.2 205.7 1516.2 206.3 1518.2 206.9 1520.2 207.5 1522.2 208.1 1524.2 208.6 1526.2 209.2 1528.2 209.8 1530.2 210.4 1532.2 211 1534.2 211.6 1536.2 212.2 1538.2 212.8 1540.2 213.4 1542.2 213.9 1544.2 214.5 1546.2 215.1 1548.2 215.7 1550.2 216.3 1552.2 216.8 1554.2 217.4 1554.5 217.5 1556.5 217.9 1558.5 218.4 1560.5 218.8 1562.5 219.2 1564.5 219.6 1566.5 220 1568.5 220.4 1570.5 220.9 1572.5 221.3 1574.5 221.7 1576.5 222.1 1578.5 222.5 1580.5 222.9 1582.5 223.3 1584.5 223.7 1586.5 224.2 1588.5 224.6 1590.5 225 1592.5 225.4 1594.5 225.9 1596.5 226.3 1598.5 226.8 1600.5 227.2 1602.5 227.7 1604.5 228.2 1606.5 228.6 1608.5 229.1 1610.5 229.6 1612.5 230.1 1614.5 230.6 1616.5 231.1 1618.5 231.7 1620.5 232.2 1622.5 232.7 1624.5 233.3 1626.5 233.9 1628.5 234.4 1630.5 235 1632.5 235.6 1634.5 236.2 1636.5 236.8 1638.5 237.4 1640.5 238.1 1642.5 238.7 1644.5 239.3 1646.5 240 1648.5 240.6 1650.5 241.3 1652.5 241.9 1654.5 242.6 1656.5 243.3 1658.5 243.9 1660.5 244.6 1662.5 245.3 1664.5 246 1666.5 246.7 1668.5 247.4 1670.5 248.1 1672.5 248.8 1674.5 249.5 1676.5 250.2 1678.5 250.9 1680.5 251.6 1682.5 252.4 1684.5 253.1 1686.5 253.8 1688.5 254.5 1690.5 255.3 1692.5 256 1694.5 256.7 1696.5 257.5 1698.5 258.2 1700.5 259 1702.5 259.8 1704.5 260.5 1706.5 261.3 1708.5 262.1 1710.5 262.9 1712.5 263.6 1714.5 264.4 1716.5 265.3 1718.5 266.1 1720.5 266.9 1722.5 267.7 1724.5 268.6 1726.5 269.4 1728.5 270.3 1730.5 271.1 1732.5 272 1734.5 272.9 1736.5 273.8 1738.5 274.7 1740.5 275.6 1742.5 276.5 1744.5 277.5 1746.5 278.4 1748.5 279.4 1750.5 280.3 1752.5 281.3 1754.5 282.3 1756.5 283.3 1758.5 284.3 1760.5 285.4 1762.5 286.4 1764.5 287.5 1766.5 288.6 1768.5 289.6 1770.5 290.7 1772.5 291.9 1774 292.7 1776 293.7 1778 294.8 1780 295.9 1782 297.1 1784 298.3 1786 299.5 1788 300.8 1790 302 1792 303.3 1794 304.6 1796 305.9 1798 307.2 1800 308.5 1802 309.8 1804 311.1 1806 312.4 1808 313.7 1810 314.9 1812 316.2 1814 317.5 1816 318.9 1818 320.2 1820 321.5 1822 322.9 1824 324.2 1826 325.6 1828 327 1830 328.4 1832 329.9 1834 331.3 1836 332.8 1838 334.4 1840 335.9 1842 337.5 1844 339.2 1846 340.8 1848 342.5 1850 344.3 1852 346.1 1854 347.9 1856 349.8 1858 351.8 1860 353.8 1862 355.9 1864 358 1866 360.2 1868 362.5 1870 364.8 1872 367.2 1874 369.6 1876 372.2 1878 374.8 1880 377.5 1882 380.3 1884 383.1 1886 386.1 1888 389.1 1890 392.3 1892 395.5 1894 399.1 1896 402.8 1898 406.7 1900 410.6 1902 414.7 1904 418.8 1906 423.1 1908 427.4 1910 431.9 1911 434.2" stroke="#D75772" stroke-width="2" fill="none" stroke-linejoin="round"/>
<path d="M1183 416 1185 416.1 1187 416.2 1189 416.3 1191 416.5 1193 416.6 1195 416.7 1197 416.8 1199 416.9 1201 417 1203 417.2 1205 417.3 1207 417.4 1209 417.5 1211 417.6 1213 417.7 1215 417.9 1217 418 1219 418.1 1221 418.2 1223 418.3 1225 418.5 1227 418.6 1229 418.7 1231 418.8 1233 418.9 1235 419.1 1237 419.2 1239 419.3 1241 419.4 1243 419.5 1245 419.7 1247 419.8 1249 419.9 1251 420 1253 420.2 1255 420.3 1257 420.4 1259 420.6 1261 420.7 1263 420.8 1265 420.9 1267 421.1 1269 421.2 1271 421.3 1273 421.5 1275 421.6 1277 421.7 1279 421.9 1281 422 1283 422.1 1285 422.3 1287 422.4 1289 422.5 1291 422.7 1293 422.8 1295 423 1297 423.1 1299 423.3 1301 423.4 1303 423.5 1305 423.7 1307 423.8 1309 424 1311 424.1 1313 424.3 1315 424.4 1317 424.6 1319 424.8 1321 424.9 1323 425.1 1325 425.2 1327 425.4 1329 425.5 1331 425.7 1333 425.9 1335 426 1337 426.2 1339 426.4 1341 426.5 1343 426.7 1345 426.9 1347 427 1349 427.2 1351 427.4 1353 427.6 1355 427.7 1357 427.9 1359 428.1 1361 428.3 1363 428.5 1365 428.7 1367 428.8 1369 429 1371 429.2 1373 429.4 1375 429.6 1377 429.8 1379 430 1381 430.2 1383 430.4 1385 430.6 1387 430.8 1389 431 1391 431.2 1393 431.4 1395 431.6 1397 431.8 1399 432.1 1401 432.3 1403 432.5 1405 432.7 1407 432.9 1409 433.2 1411 433.4 1413 433.6 1415 433.9 1417 434.1 1418 434.2" stroke="#5EC350" stroke-width="2" fill="none" stroke-linejoin="round"/>
<path d="M1300 434.2H1416" stroke="#000" stroke-width="2" fill="none"/>
<path d="M1416 434.2H1975" stroke="#50A143" stroke-width="2" fill="none"/>
<rect x="1151.5" y="68.7" width="854.1" height="619.7" fill="none" stroke="#222" stroke-width="2"/>
<path d="M1336.4 688.4V705M1336.4 68.7V62.2M1521.2 688.4V705M1521.2 68.7V62.2M1706.1 688.4V705M1706.1 68.7V62.2M1890.8 688.4V705M1890.8 68.7V62.2M1135.8 106.3H1151.5M1135.8 215.6H1151.5M1135.8 324.9H1151.5M1135.8 434.2H1151.5M1135.8 543.5H1151.5M1135.8 652.8H1151.5" stroke="#222" stroke-width="2" fill="none"/>
</g>
<g>
<text x="205.3" y="764" class="ta" text-anchor="middle">−8</text>
<text x="347.8" y="764" class="ta" text-anchor="middle">−7</text>
<text x="490.4" y="764" class="ta" text-anchor="middle">−6</text>
<text x="633" y="764" class="ta" text-anchor="middle">−5</text>
<text x="775.6" y="764" class="ta" text-anchor="middle">−4</text>
<text x="918.2" y="764" class="ta" text-anchor="middle">−3</text>
<text transform="translate(89.3 108) rotate(-90)" class="ta" text-anchor="middle">0.65</text>
<text transform="translate(89.3 229.5) rotate(-90)" class="ta" text-anchor="middle">0.60</text>
<text transform="translate(89.3 351.3) rotate(-90)" class="ta" text-anchor="middle">0.55</text>
<text transform="translate(89.3 472.9) rotate(-90)" class="ta" text-anchor="middle">0.50</text>
<text transform="translate(89.3 594.3) rotate(-90)" class="ta" text-anchor="middle">0.45</text>
<text x="159.8" y="22.2" class="ta" text-anchor="middle">17</text>
<text x="212.8" y="22.2" class="ta" text-anchor="middle">17</text>
<text x="265.9" y="22.2" class="ta" text-anchor="middle">17</text>
<text x="318.9" y="22.2" class="ta" text-anchor="middle">17</text>
<text x="371.9" y="22.2" class="ta" text-anchor="middle">15</text>
<text x="425" y="22.2" class="ta" text-anchor="middle">15</text>
<text x="478" y="22.2" class="ta" text-anchor="middle">14</text>
<text x="531" y="22.2" class="ta" text-anchor="middle">12</text>
<text x="584.1" y="22.2" class="ta" text-anchor="middle">9</text>
<text x="623.8" y="22.2" class="ta" text-anchor="middle">8</text>
<text x="663.6" y="22.2" class="ta" text-anchor="middle">6</text>
<text x="703.4" y="22.2" class="ta" text-anchor="middle">6</text>
<text x="743.2" y="22.2" class="ta" text-anchor="middle">6</text>
<text x="782.9" y="22.2" class="ta" text-anchor="middle">6</text>
<text x="822.7" y="22.2" class="ta" text-anchor="middle">6</text>
<text x="862.5" y="22.2" class="ta" text-anchor="middle">5</text>
<text x="902.3" y="22.2" class="ta" text-anchor="middle">4</text>
<text x="942" y="22.2" class="ta" text-anchor="middle">2</text>
<text x="981.8" y="22.2" class="ta" text-anchor="middle">0</text>
<text x="97" y="40.2" class="big">a</text>
<text x="529.8" y="821.8" class="ta">Log</text>
<text x="575.3" y="822.1" class="par">(</text>
<text x="587.5" y="822" class="lam">λ</text>
<text x="600.9" y="822.1" class="par">)</text>
<text transform="translate(24 383.9) rotate(-90)" class="ta" text-anchor="middle">Binomial Deviance</text>
<text x="1167.8" y="96" class="tl" text-anchor="end">5</text>
<text x="1167.8" y="146.8" class="tl" text-anchor="end">11</text>
<text x="1167.8" y="161.3" class="tl" text-anchor="end">16</text>
<text x="1167.8" y="226.4" class="tl" text-anchor="end">10</text>
<text x="1167.8" y="226.4" class="tl" text-anchor="end">18</text>
<text x="1167.8" y="334.4" class="tl" text-anchor="end">8</text>
<text x="1167.8" y="396.8" class="tl" text-anchor="end">9</text>
<text x="1167.8" y="412.7" class="tl" text-anchor="end">13</text>
<text x="1167.8" y="419.4" class="tl" text-anchor="end">14</text>
<text x="1167.8" y="419.4" class="tl" text-anchor="end">17</text>
<text x="1167.8" y="446.2" class="tl" text-anchor="end">1</text>
<text x="1167.8" y="470.1" class="tl" text-anchor="end">3</text>
<text x="1167.8" y="471.9" class="tl" text-anchor="end">2</text>
<text x="1167.8" y="492.9" class="tl" text-anchor="end">6</text>
<text x="1167.8" y="669.4" class="tl" text-anchor="end">7</text>
<text x="1336.4" y="745.2" class="tb" text-anchor="middle">−6</text>
<text x="1521.2" y="745.2" class="tb" text-anchor="middle">−5</text>
<text x="1706.1" y="745.2" class="tb" text-anchor="middle">−4</text>
<text x="1890.8" y="745.2" class="tb" text-anchor="middle">−3</text>
<text transform="translate(1115 106.3) rotate(-90)" class="tb" text-anchor="middle">1.5</text>
<text transform="translate(1115 215.6) rotate(-90)" class="tb" text-anchor="middle">1.0</text>
<text transform="translate(1115 324.9) rotate(-90)" class="tb" text-anchor="middle">0.5</text>
<text transform="translate(1115 434.2) rotate(-90)" class="tb" text-anchor="middle">0.0</text>
<text transform="translate(1115 543.5) rotate(-90)" class="tb" text-anchor="middle">−0.5</text>
<text transform="translate(1115 652.8) rotate(-90)" class="tb" text-anchor="middle">−1.0</text>
<text x="1336.4" y="32.2" class="tb" text-anchor="middle">14</text>
<text x="1521.2" y="32.2" class="tb" text-anchor="middle">7</text>
<text x="1706.1" y="32.2" class="tb" text-anchor="middle">6</text>
<text x="1890.8" y="32.2" class="tb" text-anchor="middle">4</text>
<text x="1135.6" y="42" class="big">b</text>
<text x="1578.5" y="807.8" class="tb" text-anchor="middle">Log Lambda</text>
<text transform="translate(1052.3 378.7) rotate(-90)" class="tb" text-anchor="middle">Coefficients</text>
</g>
</svg>
</body></html>
